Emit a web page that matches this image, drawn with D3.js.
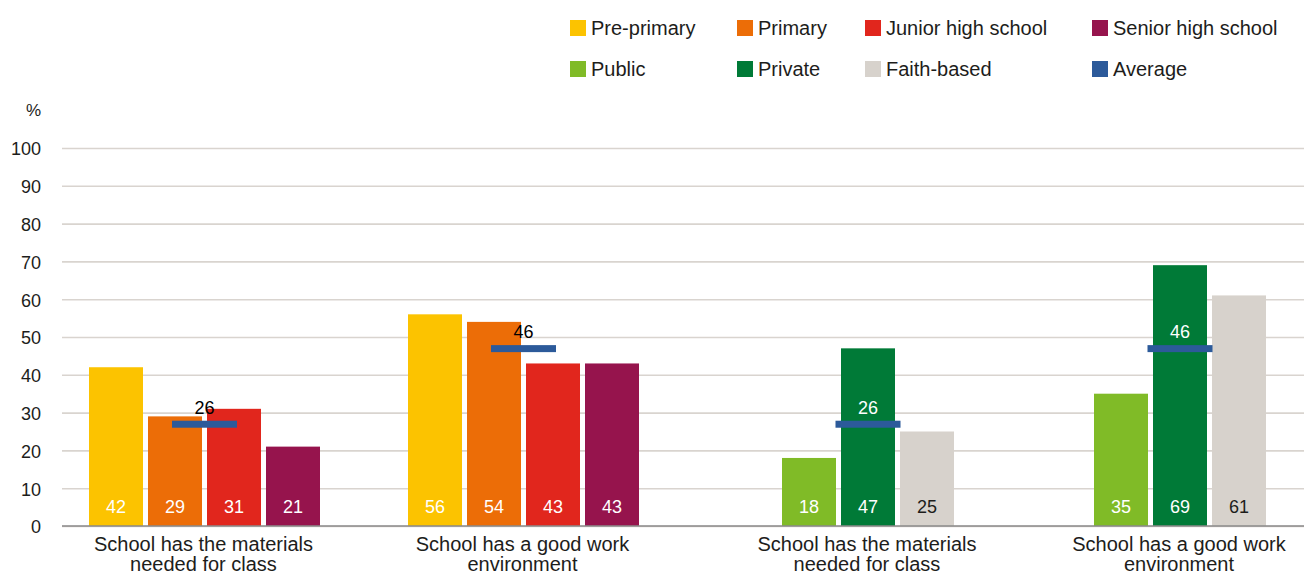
<!DOCTYPE html>
<html>
<head>
<meta charset="utf-8">
<script src="https://cdn.jsdelivr.net/npm/d3@7/dist/d3.min.js"></script>
<style>
  html, body { margin: 0; padding: 0; background: #ffffff; }
  svg { display: block; font-family: "Liberation Sans", Arial, sans-serif; }
</style>
</head>
<body>
<svg id="chart" width="1304" height="574"></svg>
<script>
// Two question groups, shown once by school level and once by school type
const categories = [
  ["School has the materials", "needed for class"],
  ["School has a good work", "environment"]
];

const levelSeries = ["Pre-primary", "Primary", "Junior high school", "Senior high school"];
const levelColors = ["#fcc300", "#ec6d07", "#e1261d", "#96144d"];
const preprimaryValues = [42, 56];
const primaryValues = [29, 54];
const juniorValues = [31, 43];
const seniorValues = [21, 43];

const typeSeries = ["Public", "Private", "Faith-based"];
const typeColors = ["#80bb27", "#007a37", "#d7d2cc"];
const publicValues = [18, 35];
const privateValues = [47, 69];
const faithValues = [25, 61];

const averageValues = [26, 46];
const averageColor = "#2c5a9a";

const yTicks = [0, 10, 20, 30, 40, 50, 60, 70, 80, 90, 100];

const levelData = [preprimaryValues, primaryValues, juniorValues, seniorValues];
const typeData = [publicValues, privateValues, faithValues];

const svg = d3.select("#chart");
const W = 1304, H = 574;
const plotLeft = 62, plotRight = W;
const textColor = "#1d1d1b";

const y = d3.scaleLinear().domain([0, 100]).range([526, 148]);

// Gridlines and y tick labels
const yAxis = d3.axisLeft(y)
  .tickValues(yTicks)
  .tickSize(-(plotRight - plotLeft))
  .tickPadding(21)
  .tickFormat(d3.format("d"));

const gAxis = svg.append("g")
  .attr("transform", `translate(${plotLeft},0)`)
  .call(yAxis);
gAxis.select(".domain").remove();
gAxis.selectAll(".tick line")
  .attr("stroke", "#d9d4cf")
  .attr("stroke-width", 1.6);
gAxis.selectAll(".tick text")
  .attr("fill", textColor)
  .attr("font-size", 18)
  .attr("dy", "0.38em");

svg.append("text")
  .attr("x", 41).attr("y", 116)
  .attr("text-anchor", "end")
  .attr("font-size", 17)
  .attr("fill", textColor)
  .text("%");

// Draws one panel of grouped bars with its average markers
function drawPanel(series, colors, data, centerRange, darkLabelIndex) {
  const groupX = d3.scalePoint()
    .domain(d3.range(categories.length))
    .range(centerRange);

  const step = 59;
  const innerWidth = series.length * step - (step - 54);
  const xInner = d3.scaleBand()
    .domain(series)
    .range([-innerWidth / 2, innerWidth / 2])
    .paddingInner((step - 54) / step)
    .paddingOuter(0);

  const g = svg.append("g");

  categories.forEach((cat, ci) => {
    const cx = groupX(ci);
    series.forEach((s, si) => {
      const v = data[si][ci];
      const bx = cx + xInner(s);
      g.append("rect")
        .attr("x", bx)
        .attr("y", y(v))
        .attr("width", xInner.bandwidth())
        .attr("height", y(0) - y(v))
        .attr("fill", colors[si]);
      g.append("text")
        .attr("x", bx + xInner.bandwidth() / 2)
        .attr("y", y(0) - 13)
        .attr("text-anchor", "middle")
        .attr("font-size", 18)
        .attr("fill", si === darkLabelIndex ? "#1d1d1b" : "#ffffff")
        .text(v);
    });

    // Average marker: the bar's bottom edge sits on the average value
    const avg = averageValues[ci];
    const mw = 65, mh = 7;
    g.append("rect")
      .attr("x", cx - mw / 2)
      .attr("y", y(avg) - mh)
      .attr("width", mw)
      .attr("height", mh)
      .attr("fill", averageColor);

    // Label sits on a dark bar in the type panel, so it turns white there
    const onDark = series.length === 3;
    g.append("text")
      .attr("x", cx)
      .attr("y", y(avg) - mh - 7)
      .attr("text-anchor", "middle")
      .attr("font-size", 18)
      .attr("fill", onDark ? "#ffffff" : "#000000")
      .text(avg);

    // Category label, two lines
    const t = g.append("text")
      .attr("text-anchor", "middle")
      .attr("font-size", 20)
      .attr("fill", textColor);
    cat.forEach((line, li) => {
      t.append("tspan")
        .attr("x", cx - 1)
        .attr("y", 551 + li * 19.5)
        .text(line);
    });
  });
}

drawPanel(levelSeries, levelColors, levelData, [204.5, 523.5], -1);
drawPanel(typeSeries, typeColors, typeData, [868, 1180], 2);

// Baseline
svg.append("line")
  .attr("x1", plotLeft).attr("x2", plotRight)
  .attr("y1", y(0)).attr("y2", y(0))
  .attr("stroke", "#8a8a8a")
  .attr("stroke-width", 1.6);

// Legend: two rows, four columns
const legendItems = [
  ...levelSeries.map((s, i) => ({ name: s, color: levelColors[i] })),
  ...typeSeries.map((s, i) => ({ name: s, color: typeColors[i] })),
  { name: "Average", color: averageColor }
];
const legendCols = [570, 737, 865, 1092];
const legendRows = [20, 61];

const lg = svg.append("g").selectAll("g")
  .data(legendItems)
  .join("g")
  .attr("transform", (d, i) => `translate(${legendCols[i % 4]},${legendRows[Math.floor(i / 4)]})`);
lg.append("rect")
  .attr("width", 16).attr("height", 16)
  .attr("fill", d => d.color);
lg.append("text")
  .attr("x", 21).attr("y", 15)
  .attr("font-size", 20)
  .attr("fill", textColor)
  .text(d => d.name);
</script>
</body>
</html>
